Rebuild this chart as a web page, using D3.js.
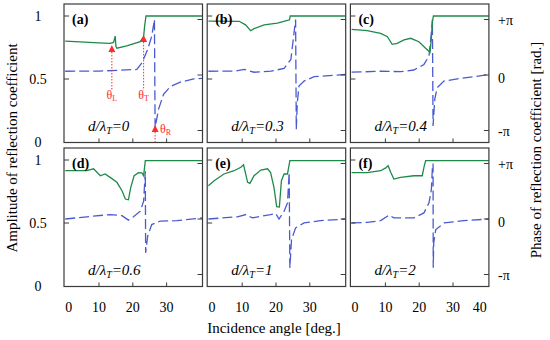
<!DOCTYPE html>
<html>
<head>
<meta charset="utf-8">
<script src="https://cdn.jsdelivr.net/npm/d3@7/dist/d3.min.js"></script>
<style>
body { margin: 0; background: #fff; }
svg { display: block; }
</style>
</head>
<body>
<div id="chart"></div>
<script>
// amplitude [angle, |r|] and phase [angle, phase/pi]
var ampA = [[0,0.80],[4.4,0.794],[8.4,0.788],[13.3,0.783],[14.3,0.79],[14.8,0.84],[15.0,0.76],[15.3,0.744],[18.2,0.762],[22.2,0.796],[23.2,0.836],[23.5,0.92],[23.9,1.0],[40.6,1.0]];
var phaseA = [[0,0.068],[10,0.07],[21.2,0.1],[22.7,0.22],[24.4,0.46],[25.6,0.70],[26.4,1.0],[26.6,-0.95],[27.6,-0.62],[29.1,-0.35],[31.1,-0.21],[34,-0.13],[38,-0.07],[40.6,-0.06]];

var ampB = [[0,0.96],[9.1,0.958],[11,0.93],[12.5,0.883],[13.5,0.90],[16.5,0.929],[20.4,0.944],[23.4,0.965],[24.0,0.97],[24.2,1.0],[40.6,1.0]];
var phaseB = [[0,0.068],[8,0.07],[10.6,0.1],[13.5,0.05],[18.5,0.068],[22.4,0.12],[24.4,0.28],[25.1,0.64],[25.8,1.0],[26.0,-0.98],[26.3,-0.5],[26.8,-0.2],[28.3,-0.11],[31.3,-0.03],[40.6,0.01]];

var ampC = [[0,0.894],[4.6,0.884],[8.6,0.862],[10.6,0.836],[12,0.775],[13.5,0.783],[15.5,0.81],[17.5,0.823],[19.9,0.796],[21.9,0.744],[23.2,0.712],[23.6,0.823],[23.9,0.95],[24.2,1.0],[40.6,1.0]];
var phaseC = [[0,0.05],[8.6,0.068],[14.5,0.06],[18.4,0.09],[21.4,0.19],[22.9,0.34],[23.6,0.76],[23.9,1.0],[24.1,-0.92],[24.6,-0.44],[25.3,-0.23],[27.3,-0.11],[31.3,-0.07],[36.2,-0.03],[40.6,0.01]];

var ampD = [[0,0.915],[6.4,0.915],[8.4,0.93],[10.4,0.875],[11.8,0.889],[13.3,0.862],[15.3,0.823],[16.8,0.756],[17.8,0.69],[18.7,0.684],[19.4,0.783],[20.4,0.875],[21.7,0.9],[22.7,0.897],[23.2,0.875],[23.7,0.995],[40.6,0.995]];
var phaseD = [[0,0],[6.4,0.04],[13.3,0.08],[16.8,0.06],[18.7,-0.02],[20.2,0.04],[22.2,0.14],[23.2,0.32],[23.7,0.86],[23.8,-0.61],[24.4,-0.31],[25.6,-0.1],[28.1,-0.04],[33,-0.03],[40.6,0.02]];

var ampE = [[0,0.796],[1.7,0.836],[4.6,0.889],[7.6,0.915],[9.6,0.942],[10.4,0.963],[10.8,0.915],[11.6,0.823],[12.3,0.815],[13.5,0.875],[15.5,0.92],[17.5,0.93],[18.4,0.9],[19.4,0.783],[20.2,0.63],[21.0,0.627],[21.6,0.836],[22.4,0.889],[23.4,0.889],[24.1,0.995],[40.6,0.995]];
var phaseE = [[0,0],[8.6,0.04],[11.1,0.08],[13,0.02],[18.4,0.08],[19.9,0.1],[20.9,0],[22.4,0.14],[23.4,0.29],[23.9,0.84],[24.1,-0.88],[24.6,-0.37],[25.8,-0.16],[28.3,-0.07],[33.2,-0.03],[40.6,0]];

var ampF = [[0,0.9],[4.6,0.9],[8.6,0.915],[10.1,0.937],[10.8,0.955],[11.6,0.9],[12.5,0.849],[14.5,0.862],[18.4,0.875],[20.9,0.875],[21.4,0.942],[21.9,0.995],[40.6,0.995]];
var phaseF = [[0,-0.07],[4.6,-0.06],[8.6,-0.03],[11.1,0.07],[12.5,0.02],[18.4,0.02],[21.4,0.11],[22.9,0.29],[23.6,0.53],[23.9,0.92],[24.1,1.0],[24.15,-0.88],[24.3,-0.43],[24.9,-0.19],[27.4,-0.07],[33.2,-0.03],[40.6,0]];

var panelLabels = ["(a)", "(b)", "(c)", "(d)", "(e)", "(f)"];
var ratios = ["0", "0.3", "0.4", "0.6", "1", "2"];
var ampSeries = [ampA, ampB, ampC, ampD, ampE, ampF];
var phaseSeries = [phaseA, phaseB, phaseC, phaseD, phaseE, phaseF];

var xTicks = [0, 10, 20, 30];
var ampTicks = [0, 0.5, 1];
var ampTickLabels = ["0", "0.5", "1"];
var phaseTicks = [-1, 0, 1];
var phaseTickLabels = ["-\u03c0", "0", "+\u03c0"];

// red markers in panel (a): angle, arrow tip (in amplitude units), name
var markerAngles = [13.8, 23.2, 26.6];
var markerTips = [0.77, 0.85, 0.135];
var markerNames = ["L", "T", "R"];

var green = "#1e8a4a", blue = "#4a5ad2", red = "#ff2a2a";
var panelW = 138.5, panelH = 138.5;

var svg = d3.select("#chart").append("svg")
    .attr("width", 550)
    .attr("height", 340)
    .attr("font-family", "Liberation Serif");

ampSeries.forEach(function(amp, i){
    var c = i % 3, r = Math.floor(i / 3);
    var x0 = 64 + c * 143.2, y0 = 4 + r * 144;

    var x = d3.scaleLinear().domain([0, 40]).range([x0 + 1.2, x0 + 136.4]);
    var yA = d3.scaleLinear().domain([0, 1]).range([y0 + 138, y0 + 12]);
    var yP = d3.scaleLinear().domain([-1, 1]).range([y0 + 126.5, y0 + 15.5]);

    var g = svg.append("g");
    g.append("clipPath").attr("id", "clip" + i)
      .append("rect")
        .attr("x", x0).attr("y", y0)
        .attr("width", panelW).attr("height", panelH);

    var lineA = d3.line().x(function(d){ return x(d[0]); }).y(function(d){ return yA(d[1]); });
    var lineP = d3.line().x(function(d){ return x(d[0]); }).y(function(d){ return yP(d[1]); });

    g.append("path")
        .attr("d", lineP(phaseSeries[i]))
        .attr("clip-path", "url(#clip" + i + ")")
        .attr("fill", "none")
        .attr("stroke", blue)
        .attr("stroke-width", 1.3)
        .attr("stroke-dasharray", "10,4");

    g.append("path")
        .attr("d", lineA(amp))
        .attr("clip-path", "url(#clip" + i + ")")
        .attr("fill", "none")
        .attr("stroke", green)
        .attr("stroke-width", 1.3);

    // frame
    g.append("rect")
        .attr("x", x0).attr("y", y0)
        .attr("width", panelW).attr("height", panelH)
        .attr("fill", "none")
        .attr("stroke", "#3a3a3a")
        .attr("stroke-width", 1.2);

    // inner ticks
    g.selectAll(".lt").data([0.5, 1]).enter().append("line")
        .attr("x1", x0).attr("x2", x0 + 5)
        .attr("y1", function(d){ return yA(d); }).attr("y2", function(d){ return yA(d); })
        .attr("stroke", "#3a3a3a");
    g.selectAll(".rt").data(phaseTicks).enter().append("line")
        .attr("x1", x0 + panelW - 5).attr("x2", x0 + panelW)
        .attr("y1", function(d){ return yP(d); }).attr("y2", function(d){ return yP(d); })
        .attr("stroke", "#3a3a3a");
    g.selectAll(".bt").data([10, 20, 30]).enter().append("line")
        .attr("x1", function(d){ return x(d); }).attr("x2", function(d){ return x(d); })
        .attr("y1", y0 + panelH).attr("y2", y0 + panelH - 4)
        .attr("stroke", "#3a3a3a");

    // panel tag
    g.append("text")
        .attr("x", x0 + 8).attr("y", y0 + 20)
        .attr("font-size", 14).attr("font-weight", "bold")
        .text(panelLabels[i]);

    // d/lambda_T label
    var t = g.append("text")
        .attr("x", x0 + 24).attr("y", y0 + 127)
        .attr("font-size", 15).attr("font-style", "italic");
    t.append("tspan").text("d/\u03bb");
    t.append("tspan").attr("font-size", 10).attr("dy", 3).text("T");
    t.append("tspan").attr("dy", -3).text("=" + ratios[i]);

    // bottom tick labels
    var xt = (c == 2) ? xTicks.concat([40]) : xTicks;
    if (r == 1) {
        g.selectAll(".xl").data(xt).enter().append("text")
            .attr("x", function(d){ return x(d); })
            .attr("y", y0 + panelH + 25)
            .attr("font-size", 14)
            .attr("text-anchor", function(d){ return d == 0 ? "start" : (d == 40 ? "end" : "middle"); })
            .text(function(d){ return d; });
    }
    if (c == 0) {
        g.selectAll(".yl").data(ampTicks).enter().append("text")
            .attr("x", 38)
            .attr("y", function(d){ return yA(d) + 5; })
            .attr("font-size", 14)
            .attr("text-anchor", "middle")
            .text(function(d, k){ return ampTickLabels[k]; });
    }
    if (c == 2) {
        g.selectAll(".pl").data(phaseTicks).enter().append("text")
            .attr("x", 498)
            .attr("y", function(d){ return yP(d) + (d == 0 ? 8 : 5); })
            .attr("font-size", 14)
            .text(function(d, k){ return phaseTickLabels[k]; });
    }

    // theta markers, panel (a) only
    if (i == 0) {
        markerAngles.forEach(function(a, k){
            var px = x(a), tip = yA(markerTips[k]);
            g.append("path")
                .attr("d", "M" + px + "," + tip + "L" + (px - 3.5) + "," + (tip + 7) + "L" + (px + 3.5) + "," + (tip + 7) + "Z")
                .attr("fill", red);
            var yEnd = (k < 2) ? yA(0.41) : y0 + panelH;
            g.append("line")
                .attr("x1", px).attr("x2", px)
                .attr("y1", tip + 7).attr("y2", yEnd)
                .attr("stroke", red).attr("stroke-width", 1)
                .attr("stroke-dasharray", "1.5,1.5");
            var lt = g.append("text")
                .attr("fill", red).attr("font-size", 12);
            if (k < 2) {
                lt.attr("x", px).attr("y", yA(0.41) + 9).attr("text-anchor", "middle");
            } else {
                lt.attr("x", px + 5).attr("y", tip + 8);
            }
            lt.append("tspan").text("\u03b8");
            lt.append("tspan").attr("font-size", 8).attr("dy", 2).text(markerNames[k]);
        });
    }
});

// axis titles
svg.append("text")
    .attr("transform", "translate(17,148) rotate(-90)")
    .attr("text-anchor", "middle")
    .attr("font-size", 15)
    .text("Amplitude of reflection coefficient");

svg.append("text")
    .attr("transform", "translate(541,150) rotate(-90)")
    .attr("text-anchor", "middle")
    .attr("font-size", 15)
    .text("Phase of reflection coefficient [rad.]");

svg.append("text")
    .attr("x", 274).attr("y", 333)
    .attr("text-anchor", "middle")
    .attr("font-size", 15)
    .text("Incidence angle [deg.]");
</script>
</body>
</html>
